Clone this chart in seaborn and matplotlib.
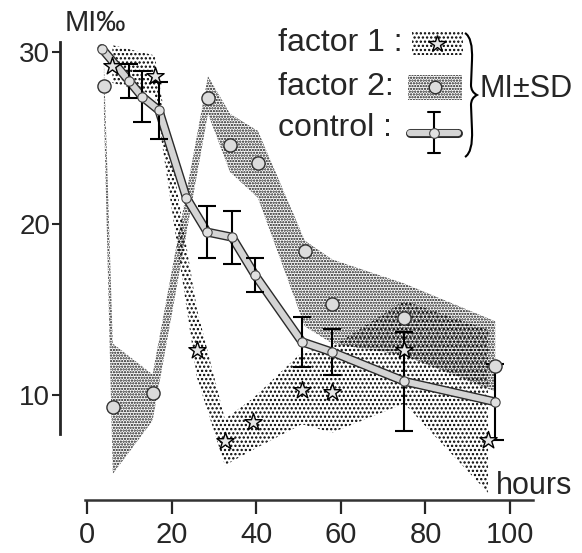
import matplotlib
matplotlib.use("Agg")
import matplotlib.pyplot as plt
import matplotlib.patheffects as pe
from matplotlib.patches import Rectangle, PathPatch
from matplotlib.path import Path
from matplotlib.lines import Line2D
import seaborn as sns

# ------------------------------------------
# DATA
# ------------------------------------------
# factor 1 : sparse dotted band, star markers
f1_hours = [6, 16, 26, 32.6, 39.2, 50.8, 57.9, 75, 94.8]
f1_mean = [29.2, 28.6, 12.6, 7.3, 8.4, 10.3, 10.2, 12.6, 7.4]
f1_low = [28.2, 27.5, 11.0, 5.9, 6.8, 8.3, 7.8, 9.5, 4.3]
f1_high = [30.4, 29.8, 15.0, 8.6, 9.8, 12.5, 12.8, 15.5, 13.8]

# factor 2 : dense dotted band, circle markers
f2_hours = [4, 6.1, 15.5, 28.6, 33.8, 40.4, 51.5, 58, 75, 96.5]
f2_mean = [28.0, 9.3, 10.1, 27.3, 24.6, 23.5, 18.4, 15.3, 14.5, 11.7]
f2_low = [26.5, 5.4, 8.5, 26.4, 23.0, 21.5, 14.0, 13.0, 12.3, 10.2]
f2_high = [29.5, 13.0, 11.2, 28.6, 26.4, 25.4, 19.0, 17.9, 16.5, 14.3]

# control : line with error bars
ctrl_hours = [3.5, 10, 13, 17, 23.5, 28.4, 34.3, 39.7, 50.8, 58, 75, 96.5]
ctrl_mean = [30.2, 28.3, 27.4, 26.6, 21.5, 19.5, 19.2, 17.0, 13.1, 12.5, 10.8, 9.6]
ctrl_sd = [0, 1.0, 1.5, 1.65, 0, 1.5, 1.55, 1.0, 1.45, 1.35, 2.9, 2.2]

x_ticks = [0, 20, 40, 60, 80, 100]
y_ticks = [10, 20, 30]

# ------------------------------------------
# STYLE
# ------------------------------------------
sns.set_style("ticks")
plt.rcParams['font.family'] = ['Liberation Sans', 'DejaVu Sans']
plt.rcParams['hatch.linewidth'] = 1.1

W, H = 582, 553
fig = plt.figure(figsize=(W / 100, H / 100), dpi=100)
ax = fig.add_axes([0.0768, 0.0376, 0.8868, 0.9304])


def px(x, y):
    # pixel position (from top-left) -> figure fraction
    return x / W, 1 - y / H


# bands
ax.fill_between(f1_hours, f1_low, f1_high, facecolor='none', edgecolor='black',
                hatch='....', linewidth=0, zorder=1)
ax.fill_between(f2_hours, f2_low, f2_high, facecolor='none', edgecolor='#111111',
                hatch='......', linewidth=0, zorder=1)

# control line
sns.lineplot(x=ctrl_hours, y=ctrl_mean, ax=ax, color='#d4d4d4', linewidth=4.5,
             path_effects=[pe.Stroke(linewidth=6.5, foreground='#2a2a2a'), pe.Normal()],
             zorder=3)
bars = [(h, m, s) for h, m, s in zip(ctrl_hours, ctrl_mean, ctrl_sd) if s > 0]
ax.errorbar([b[0] for b in bars], [b[1] for b in bars], yerr=[b[2] for b in bars],
            fmt='none', ecolor='black', elinewidth=1.5, capsize=6.5, capthick=1.5, zorder=4)
sns.scatterplot(x=ctrl_hours, y=ctrl_mean, ax=ax, marker='o', s=45, color='#e0e0e0',
                edgecolor='#444444', linewidth=0.8, zorder=5)

# factor markers
sns.scatterplot(x=f1_hours, y=f1_mean, ax=ax, marker='*', s=170, color='#e6e6e6',
                edgecolor='black', linewidth=1.0, zorder=6)
sns.scatterplot(x=f2_hours, y=f2_mean, ax=ax, marker='o', s=90, color='#dcdcdc',
                edgecolor='#333333', linewidth=1.0, zorder=6)

# axes
ax.set_xlim(-10, 112)
ax.set_ylim(2, 32)
ax.set_xticks(x_ticks)
ax.set_yticks(y_ticks)
for side in ['top', 'right']:
    ax.spines[side].set_visible(False)
ax.spines['left'].set_position(('data', -6.4))
ax.spines['left'].set_bounds(7.7, 30.6)
ax.spines['left'].set_linewidth(2.0)
ax.spines['bottom'].set_position(('data', 3.85))
ax.spines['bottom'].set_bounds(-0.5, 105.5)
ax.spines['bottom'].set_linewidth(1.8)
ax.spines['bottom'].set_color('#333333')
ax.tick_params(axis='x', direction='out', length=10, width=1.6, labelsize=21, pad=5)
ax.tick_params(axis='y', direction='out', length=6, width=1.5, labelsize=20, pad=1)
ax.set_xlabel('')
ax.set_ylabel('')

fig.text(*px(65, 23), 'MI‰', fontsize=21, ha='left', va='center')
fig.text(*px(496, 486), 'hours', fontsize=22, ha='left', va='center')

# ------------------------------------------
# LEGEND (drawn by hand, as in the original)
# ------------------------------------------
rows = [('factor 1 :', 43), ('factor 2:', 87), ('control :', 128)]
for label, yc in rows:
    fig.text(*px(278, yc), label, fontsize=23, ha='left', va='center')

x0, y0 = px(412, 55)
x1, y1 = px(463, 32)
fig.add_artist(Rectangle((x0, y0), x1 - x0, y1 - y0, transform=fig.transFigure,
                         facecolor='none', edgecolor='black', hatch='....', linewidth=0))
fig.add_artist(Line2D([px(437, 44)[0]], [px(437, 44)[1]], transform=fig.transFigure,
                      marker='*', markersize=13, markerfacecolor='#e6e6e6',
                      markeredgecolor='black', markeredgewidth=1.0))

x0, y0 = px(408, 100)
x1, y1 = px(462, 75)
fig.add_artist(Rectangle((x0, y0), x1 - x0, y1 - y0, transform=fig.transFigure,
                         facecolor='none', edgecolor='#111111', hatch='......', linewidth=0))
fig.add_artist(Line2D([px(435, 87)[0]], [px(435, 87)[1]], transform=fig.transFigure,
                      marker='o', markersize=9, markerfacecolor='#dcdcdc',
                      markeredgecolor='#333333', markeredgewidth=1.0))

lx0, ly = px(410, 133)
lx1, _ = px(458, 133)
fig.add_artist(Line2D([lx0, lx1], [ly, ly], transform=fig.transFigure, color='#d4d4d4',
                      linewidth=4.5,
                      path_effects=[pe.Stroke(linewidth=6.5, foreground='#2a2a2a'), pe.Normal()]))
bx, by_top = px(434, 112)
_, by_bot = px(434, 153)
cw = 6 / W
fig.add_artist(Line2D([bx, bx], [by_bot, by_top], transform=fig.transFigure, color='black', lw=1.5))
for yy in (by_top, by_bot):
    fig.add_artist(Line2D([bx - cw, bx + cw], [yy, yy], transform=fig.transFigure,
                          color='black', lw=1.5))
fig.add_artist(Line2D([bx], [ly], transform=fig.transFigure, marker='o', markersize=7,
                      markerfacecolor='#e0e0e0', markeredgecolor='#444444', markeredgewidth=0.8))

# brace
brace_px = [(465, 33), (473, 38), (472, 60), (471, 85), (471, 92), (477, 95),
            (471, 98), (471, 105), (472, 130), (473, 152), (465, 157)]
codes = [Path.MOVETO, Path.CURVE3, Path.CURVE3, Path.LINETO, Path.CURVE3, Path.CURVE3,
         Path.CURVE3, Path.CURVE3, Path.LINETO, Path.CURVE3, Path.CURVE3]
brace = Path([px(x, y) for x, y in brace_px], codes)
fig.add_artist(PathPatch(brace, transform=fig.transFigure, fill=False, lw=1.5,
                         edgecolor='black'))

fig.text(*px(479, 89), 'MI±SD', fontsize=22, ha='left', va='center')

fig.savefig('out.png', dpi=100)
